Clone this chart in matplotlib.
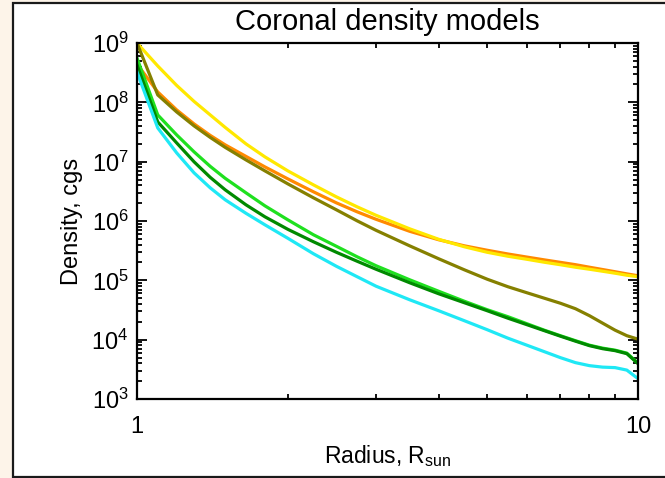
import matplotlib
matplotlib.use("Agg")
import matplotlib.pyplot as plt
import numpy as np
from matplotlib.patches import Rectangle
from matplotlib.ticker import FixedLocator, LogLocator, NullFormatter

plt.rcParams["font.family"] = ["Liberation Sans", "DejaVu Sans"]
plt.rcParams["mathtext.fontset"] = "custom"
plt.rcParams["mathtext.rm"] = "Liberation Sans"
plt.rcParams["mathtext.it"] = "Liberation Sans"

# ── Data (log10 density) ─────────────────────────────────────────────────────
radius = [1.0, 1.1, 1.2, 1.3, 1.4, 1.5, 1.65, 1.8, 2.0, 2.25, 2.5, 2.75, 3.0, 3.5,
          4.0, 4.5, 5.0, 5.5, 6.0, 6.5, 7.0, 7.5, 8.0, 8.5, 9.0, 9.5, 10.0]

log_yellow = [9.000, 8.613, 8.285, 8.015, 7.788, 7.577, 7.300, 7.081, 6.845, 6.609, 6.407,
              6.239, 6.096, 5.869, 5.692, 5.566, 5.473, 5.406, 5.355, 5.305, 5.263, 5.221,
              5.187, 5.153, 5.120, 5.086, 5.061]
log_orange = [8.646, 8.175, 7.872, 7.636, 7.443, 7.283, 7.089, 6.912, 6.710, 6.492, 6.306,
              6.155, 6.029, 5.827, 5.684, 5.582, 5.507, 5.444, 5.392, 5.345, 5.303, 5.264,
              5.221, 5.182, 5.145, 5.109, 5.077]
log_olive = [9.000, 8.125, 7.838, 7.603, 7.409, 7.241, 7.030, 6.845, 6.626, 6.391, 6.189,
             6.003, 5.843, 5.582, 5.364, 5.178, 5.019, 4.892, 4.791, 4.699, 4.614, 4.522,
             4.404, 4.278, 4.160, 4.067, 4.008]
log_green = [8.747, 7.788, 7.451, 7.165, 6.921, 6.719, 6.475, 6.256, 6.020, 5.768, 5.574,
             5.397, 5.246, 5.010, 4.816, 4.648, 4.505, 4.387, 4.269, 4.160, 4.067, 3.983,
             3.907, 3.857, 3.823, 3.773, 3.604]
log_dkgreen = [8.630, 7.670, 7.316, 6.997, 6.736, 6.525, 6.273, 6.071, 5.860, 5.650, 5.473,
               5.322, 5.187, 4.960, 4.774, 4.623, 4.488, 4.362, 4.253, 4.152, 4.059, 3.975,
               3.899, 3.848, 3.815, 3.764, 3.596]
log_cyan = [8.512, 7.569, 7.148, 6.811, 6.559, 6.357, 6.130, 5.936, 5.709, 5.448, 5.237,
            5.061, 4.901, 4.673, 4.488, 4.320, 4.168, 4.025, 3.907, 3.798, 3.697, 3.613,
            3.562, 3.537, 3.529, 3.487, 3.343]

series = [
    ("#ff8a00", log_orange),
    ("#ffe800", log_yellow),
    ("#858000", log_olive),
    ("#1fe01f", log_green),
    ("#008a00", log_dkgreen),
    ("#1fe8f5", log_cyan),
]

x_ticks = [1, 10]
x_ticklabels = ["1", "10"]
y_ticks = [1e3, 1e4, 1e5, 1e6, 1e7, 1e8, 1e9]
y_ticklabels = [r"$\mathregular{10^{%d}}$" % e for e in range(3, 10)]

# ── Figure ───────────────────────────────────────────────────────────────────
W, H = 665, 478
fig = plt.figure(figsize=(W / 100, H / 100), dpi=100)
fig.patch.set_facecolor("#fdf4e9")
fig.patches.append(Rectangle((12.5 / W, 1 - 477 / H), 1.0, (477 - 3) / H,
                             transform=fig.transFigure, facecolor="white",
                             edgecolor="#1a1a1a", linewidth=1.6, zorder=-5))

ax = fig.add_axes([137 / W, 1 - 399 / H, (638 - 137) / W, (399 - 43) / H])
ax.set_zorder(2)
ax.set_facecolor("white")

for color, vals in series:
    ax.plot(radius, 10 ** np.array(vals), color=color, linewidth=2.3)

ax.set_xscale("log")
ax.set_yscale("log")
ax.set_xlim(1, 10)
ax.set_ylim(1e3, 1e9)

ax.xaxis.set_major_locator(FixedLocator(x_ticks))
ax.set_xticklabels(x_ticklabels)
ax.xaxis.set_minor_locator(LogLocator(base=10, subs=np.arange(2, 10)))
ax.xaxis.set_minor_formatter(NullFormatter())
ax.yaxis.set_major_locator(FixedLocator(y_ticks))
ax.set_yticklabels(y_ticklabels)
ax.yaxis.set_minor_locator(LogLocator(base=10, subs=np.arange(2, 10), numticks=20))
ax.yaxis.set_minor_formatter(NullFormatter())

ax.tick_params(which="both", direction="in", top=True, right=True, width=1.3, color="black")
ax.tick_params(which="major", length=7, labelsize=17)
ax.tick_params(axis="x", which="major", pad=12)
ax.tick_params(axis="y", which="major", pad=6)
ax.tick_params(which="minor", length=3.6)
for s in ax.spines.values():
    s.set_linewidth(1.6)

ax.set_title("Coronal density models", fontsize=21, pad=9)
ax.set_xlabel(r"Radius, R$_\mathregular{sun}$", fontsize=16.5, labelpad=4)
ax.set_ylabel("Density, cgs", fontsize=17, labelpad=6)

fig.savefig("out.png", dpi=100, facecolor=fig.get_facecolor())
